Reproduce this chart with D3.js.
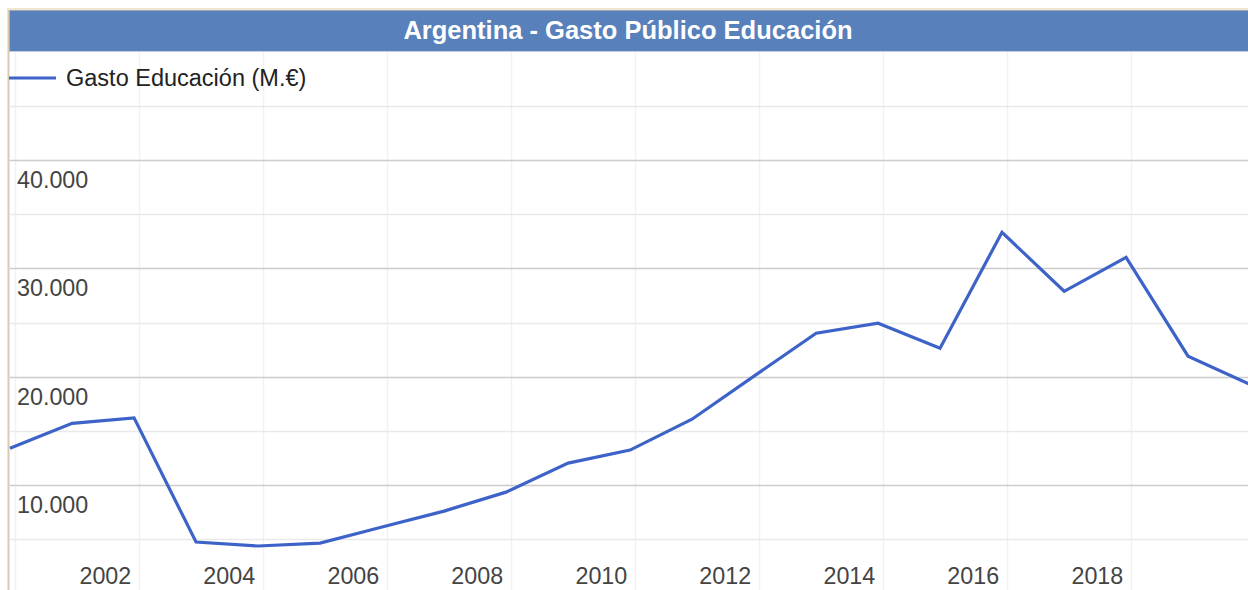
<!DOCTYPE html>
<html>
<head>
<meta charset="utf-8">
<script src="https://cdn.jsdelivr.net/npm/d3@7"></script>
<style>
  body { margin: 0; background: #fff; }
  text { font-family: "Liberation Sans", Arial, sans-serif; }
</style>
</head>
<body>
<div id="chart"></div>
<script>
let width = 1248;
let height = 590;

// data (M.€ per year)
const years = [1999, 2000, 2001, 2002, 2003, 2004, 2005, 2006, 2007, 2008, 2009,
  2010, 2011, 2012, 2013, 2014, 2015, 2016, 2017, 2018, 2019];
const gasto = [13400, 15700, 16200, 4750, 4380, 4650, 6130, 7600, 9350, 12030, 13230,
  16080, 20050, 24010, 24930, 22630, 33320, 27880, 31010, 21890, 19300];
const yTicks = [10000, 20000, 30000, 40000];
const yGrid = [5000, 10000, 15000, 20000, 25000, 30000, 35000, 40000, 45000];
const xLabelYears = [2002, 2004, 2006, 2008, 2010, 2012, 2014, 2016, 2018];
const xGridYears = [2000, 2002, 2004, 2006, 2008, 2010, 2012, 2014, 2016, 2018];
const titleText = "Argentina - Gasto Público Educación";
const seriesName = "Gasto Educación (M.€)";

const locale = d3.formatLocale({ decimal: ",", thousands: ".", grouping: [3], currency: ["", "€"] });
const fmt = locale.format(",");

// points sit at the start of december of each year
const pointDate = (y) => new Date(y, 11, 1);

let x = d3.scaleTime()
  .domain([pointDate(1999), pointDate(2019)])
  .range([10, 1250]);
let y = d3.scaleLinear().domain([0, 50000]).range([593.5, 51.5]);

let svg = d3.select("#chart")
  .append("svg")
  .attr("width", width)
  .attr("height", height)
  .style("display", "block")
  .style("background", "#fff");

// frame
svg.append("line")
  .attr("x1", 8.5).attr("x2", 8.5).attr("y1", 8).attr("y2", height)
  .attr("stroke", "#dccab0").attr("stroke-width", 2);
svg.append("line")
  .attr("x1", 8).attr("x2", width).attr("y1", 9).attr("y2", 9)
  .attr("stroke", "#f1e5d2").attr("stroke-width", 2);

let plot = svg.append("g");

// vertical grid
plot.selectAll(".vgrid")
  .data(xGridYears)
  .enter()
  .append("line")
  .attr("class", "vgrid")
  .attr("x1", (d) => Math.round(x(new Date(d, 0, 1))) + 0.5)
  .attr("x2", (d) => Math.round(x(new Date(d, 0, 1))) + 0.5)
  .attr("y1", 52)
  .attr("y2", height)
  .attr("stroke", "#f2f2f2")
  .attr("stroke-width", 1.5);

// horizontal grid
plot.selectAll(".hgrid")
  .data(yGrid)
  .enter()
  .append("line")
  .attr("class", "hgrid")
  .attr("x1", 9.5)
  .attr("x2", width)
  .attr("y1", (d) => Math.round(y(d)) + 0.5)
  .attr("y2", (d) => Math.round(y(d)) + 0.5)
  .attr("stroke", (d) => (d % 10000 === 0 ? "#cccccc" : "#e9e9e9"))
  .attr("stroke-width", 1.5);

// y labels, inside, below their gridline
plot.selectAll(".ylab")
  .data(yTicks)
  .enter()
  .append("text")
  .attr("class", "ylab")
  .attr("x", 17)
  .attr("y", (d) => y(d) + 28)
  .attr("font-size", "23.3px")
  .attr("fill", "#444")
  .text((d) => fmt(d));

// x labels
plot.selectAll(".xlab")
  .data(xLabelYears)
  .enter()
  .append("text")
  .attr("class", "xlab")
  .attr("x", (d) => x(new Date(d, 0, 1)) - 34)
  .attr("y", 584)
  .attr("text-anchor", "middle")
  .attr("font-size", "23.3px")
  .attr("fill", "#444")
  .text((d) => d);

// series line
const line = d3.line()
  .x((d, i) => x(pointDate(years[i])))
  .y((d) => y(d));

plot.append("path")
  .datum(gasto)
  .attr("d", line)
  .attr("fill", "none")
  .attr("stroke", "#3d63c9")
  .attr("stroke-width", 3.2)
  .attr("stroke-linejoin", "miter");

// title bar
svg.append("rect")
  .attr("x", 9.5).attr("y", 10.5)
  .attr("width", width - 9.5).attr("height", 41)
  .attr("fill", "#5880bb");
svg.append("line")
  .attr("x1", 9.5).attr("x2", width).attr("y1", 10.5).attr("y2", 10.5)
  .attr("stroke", "#9aa7bb");
svg.append("line")
  .attr("x1", 9.5).attr("x2", width).attr("y1", 51.5).attr("y2", 51.5)
  .attr("stroke", "#c5cddb");
svg.append("text")
  .attr("x", 628)
  .attr("y", 38.5)
  .attr("text-anchor", "middle")
  .attr("font-size", "25.5px")
  .attr("font-weight", "bold")
  .attr("fill", "#fff")
  .text(titleText);

// legend
let legend = svg.append("g");
legend.append("line")
  .attr("x1", 9).attr("x2", 56).attr("y1", 78).attr("y2", 78)
  .attr("stroke", "#3d63c9").attr("stroke-width", 3.2);
legend.append("text")
  .attr("x", 66)
  .attr("y", 86)
  .attr("font-size", "23.5px")
  .attr("fill", "#222")
  .text(seriesName);
</script>
</body>
</html>
